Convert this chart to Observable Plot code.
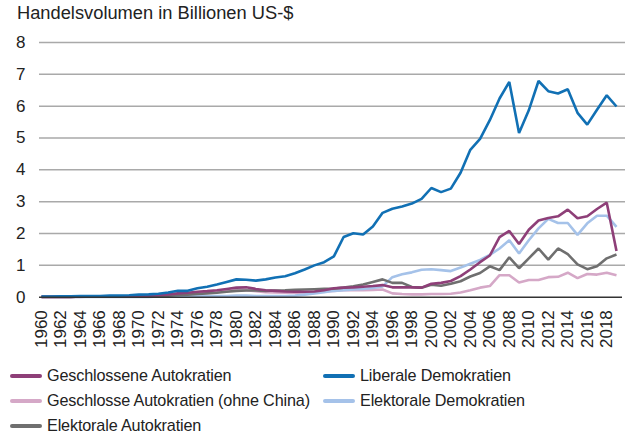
<!DOCTYPE html>
<html><head><meta charset="utf-8">
<script src="https://cdn.jsdelivr.net/npm/d3@7"></script>
<script src="https://cdn.jsdelivr.net/npm/@observablehq/plot@0.6"></script>
<style>
body{margin:0;background:#fff;font-family:"Liberation Sans",Arial,sans-serif;color:#222;width:625px;height:435px;overflow:hidden;position:relative}
#title{position:absolute;left:17px;top:2px;font-size:18.3px;line-height:22px;white-space:nowrap}
#chart{position:absolute;left:0;top:30px}
#legend{position:absolute;left:10px;top:363px;display:grid;grid-template-columns:313px auto;grid-auto-rows:25px;font-size:16.2px;letter-spacing:-0.15px;white-space:nowrap}
.item{display:flex;align-items:center}
.sw{width:32px;height:4px;margin-right:5px;border-radius:2px}
</style></head><body>
<div id="title">Handelsvolumen in Billionen US-$</div>
<div id="chart"></div>
<div id="legend"></div>
<script>
const years = d3.range(1960, 2020);
const xTicks = d3.range(1960, 2019, 2);
const yTicks = [0,1,2,3,4,5,6,7,8];

const seriesNames = [
  "Geschlossene Autokratien",
  "Liberale Demokratien",
  "Geschlosse Autokratien (ohne China)",
  "Elektorale Demokratien",
  "Elektorale Autokratien"
];
const seriesColors = ["#8e3f78", "#1170b4", "#d5a8c7", "#a5c2e9", "#6f6f6f"];

const liberaleDemokratien = [
  0.02,0.02,0.03,0.03,0.04,0.04,0.04,0.05,0.05,0.06,
  0.08,0.09,0.11,0.15,0.20,0.20,0.28,0.33,0.40,0.48,
  0.56,0.55,0.52,0.56,0.62,0.66,0.75,0.87,1.00,1.10,
  1.28,1.89,2.01,1.97,2.22,2.65,2.78,2.85,2.94,3.09,
  3.43,3.30,3.41,3.91,4.63,4.97,5.56,6.24,6.76,5.16,
  5.87,6.79,6.47,6.40,6.53,5.79,5.42,5.89,6.34,5.99
];
const geschlosseneAutokratien = [
  0.01,0.01,0.01,0.01,0.02,0.02,0.02,0.02,0.03,0.03,
  0.04,0.05,0.06,0.09,0.12,0.14,0.17,0.19,0.22,0.26,
  0.30,0.31,0.26,0.22,0.20,0.18,0.17,0.17,0.18,0.22,
  0.28,0.30,0.31,0.33,0.35,0.38,0.31,0.31,0.31,0.30,
  0.42,0.45,0.51,0.66,0.87,1.10,1.31,1.89,2.08,1.67,
  2.12,2.41,2.49,2.54,2.75,2.48,2.54,2.77,2.97,1.45
];
const geschlosseneOhneChina = [
  0.01,0.01,0.01,0.01,0.01,0.02,0.02,0.02,0.02,0.03,
  0.03,0.04,0.05,0.07,0.10,0.11,0.13,0.15,0.17,0.20,
  0.22,0.22,0.19,0.16,0.15,0.14,0.14,0.14,0.15,0.18,
  0.20,0.22,0.22,0.22,0.23,0.24,0.12,0.10,0.09,0.09,
  0.10,0.10,0.11,0.15,0.22,0.30,0.35,0.69,0.69,0.46,
  0.54,0.54,0.63,0.64,0.77,0.60,0.73,0.71,0.77,0.69
];
const elektoraleDemokratien = [
  0.01,0.01,0.01,0.01,0.01,0.01,0.01,0.01,0.01,0.01,
  0.01,0.01,0.02,0.02,0.02,0.03,0.03,0.03,0.04,0.04,
  0.05,0.05,0.04,0.04,0.04,0.04,0.05,0.08,0.12,0.16,
  0.20,0.22,0.24,0.26,0.29,0.34,0.63,0.72,0.78,0.86,
  0.88,0.85,0.82,0.93,1.05,1.17,1.33,1.53,1.79,1.37,
  1.79,2.16,2.46,2.33,2.33,1.96,2.32,2.56,2.56,2.21
];
const elektoraleAutokratien = [
  0.01,0.01,0.01,0.01,0.02,0.02,0.02,0.02,0.02,0.03,
  0.03,0.03,0.04,0.05,0.07,0.08,0.10,0.12,0.14,0.17,
  0.20,0.21,0.21,0.20,0.21,0.22,0.23,0.24,0.25,0.26,
  0.27,0.30,0.34,0.40,0.48,0.56,0.45,0.45,0.32,0.30,
  0.39,0.36,0.42,0.50,0.65,0.76,0.97,0.85,1.25,0.91,
  1.22,1.53,1.18,1.53,1.35,1.03,0.88,0.97,1.22,1.34
];

// draw order (bottom to top)
const drawOrder = [
  [seriesNames[2], geschlosseneOhneChina],
  [seriesNames[3], elektoraleDemokratien],
  [seriesNames[4], elektoraleAutokratien],
  [seriesNames[0], geschlosseneAutokratien],
  [seriesNames[1], liberaleDemokratien]
];
const data = drawOrder.flatMap(([name, vals]) => vals.map((v, i) => ({series: name, year: years[i], value: v})));

const font = '"Liberation Sans", Arial, sans-serif';
const chart = Plot.plot({
  width: 625,
  height: 330,
  marginLeft: 41,
  marginRight: 9,
  marginTop: 12,
  marginBottom: 63.3,
  style: {fontSize: "17px", fontFamily: font, color: "#222", background: "transparent"},
  x: {domain: [1960, 2019], ticks: xTicks, tickFormat: "d", tickRotate: -90, tickSize: 0, tickPadding: 13, label: null},
  y: {domain: [0, 8], ticks: yTicks, tickSize: 0, tickPadding: 16, label: null},
  color: {domain: seriesNames, range: seriesColors},
  marks: [
    Plot.ruleY(yTicks.filter(d => d > 0), {stroke: "#a9a9a9", strokeWidth: 1.5, insetLeft: -2, insetRight: -9}),
    Plot.line(data, {x: "year", y: "value", z: "series", stroke: "series", strokeWidth: 2.6, strokeLinejoin: "miter", strokeLinecap: "butt"}),
    Plot.ruleY([0], {stroke: "#333", strokeWidth: 1.5, insetLeft: -2, insetRight: -6})
  ]
});
document.getElementById("chart").appendChild(chart);

const legendOrder = [0, 1, 2, 3, 4];
const legend = document.getElementById("legend");
for (const i of legendOrder) {
  const item = document.createElement("div");
  item.className = "item";
  const sw = document.createElement("span");
  sw.className = "sw";
  sw.style.background = seriesColors[i];
  const t = document.createElement("span");
  t.textContent = seriesNames[i];
  item.appendChild(sw);
  item.appendChild(t);
  legend.appendChild(item);
}
</script>
</body></html>
